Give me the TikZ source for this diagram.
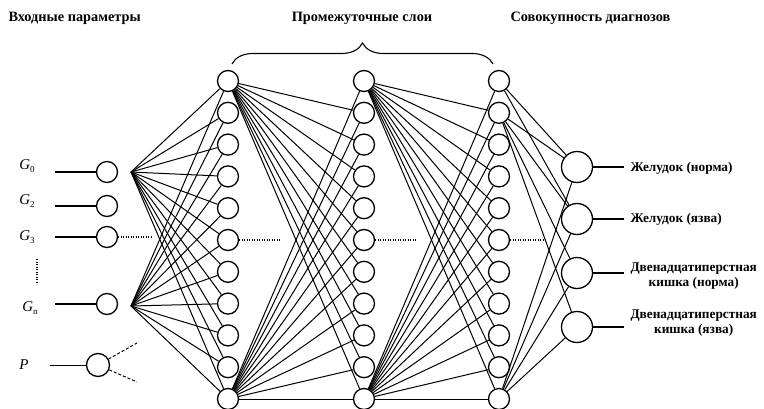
\documentclass[tikz,border=0pt]{standalone}
\usepackage{fontspec}
\setmainfont{Liberation Serif}
\usetikzlibrary{decorations.pathreplacing}
\begin{document}
\begin{tikzpicture}[x=1pt,y=-1pt,
  neuron/.style={circle,draw,line width=1.3pt,minimum size=21pt,inner sep=0pt},
  outneuron/.style={neuron,minimum size=31pt},
  link/.style={line width=1pt},
  dotline/.style={line width=1.4pt,dash pattern=on 1.3pt off 1.2pt},
  dashline/.style={line width=1pt,dash pattern=on 3pt off 2pt},
  toplabel/.style={font=\fontsize{14.3}{16}\selectfont\bfseries},
  outlabel/.style={font=\fontsize{13.3}{15.5}\selectfont\bfseries,align=center,anchor=west},
  glabel/.style={font=\fontsize{15}{17}\selectfont}]
\useasboundingbox (0,0) rectangle (764,408);
% top labels
\node[toplabel,anchor=west] (tin) at (5,18) {Входные параметры};
\node[toplabel] (tmid) at (362,18) {Промежуточные слои};
\node[toplabel,anchor=west] (tout) at (507,18) {Совокупность диагнозов};
\coordinate (bl) at (232,64);
\coordinate (br) at (493,64);
\draw[line width=1.1pt,decorate,decoration={brace,amplitude=21pt}] (bl) -- (br);
% inputs
\foreach \n/\y in {0/172,2/206,3/237,n/304}{
  \node[neuron] (I\n) at (107,\y) {};
  \coordinate (S\n) at (55,\y);
  \draw[line width=1.3pt] (S\n) -- (I\n);
}
\node[glabel] (g0) at (27,166) {\textit{G}\raisebox{-2.5pt}{\fontsize{9}{10}\selectfont 0}};
\node[glabel] (g2) at (27,201) {\textit{G}\raisebox{-2.5pt}{\fontsize{9}{10}\selectfont 2}};
\node[glabel] (g3) at (27,237) {\textit{G}\raisebox{-2.5pt}{\fontsize{9}{10}\selectfont 3}};
\node[glabel] (gn) at (30,308) {\textit{G}\raisebox{-2.5pt}{\fontsize{9}{10}\selectfont n}};
\node[glabel] (gp) at (24,365) {\textit{P}};
\node[neuron,minimum size=23pt] (IP) at (98,365) {};
\coordinate (SP) at (50,365);
\draw[line width=0.9pt] (SP) -- (IP);
\coordinate (pa) at (137,343);
\coordinate (pb) at (137,382);
\draw[dashline] (IP) -- (pa);
\draw[dashline] (IP) -- (pb);
\coordinate (vd1) at (37,259);
\coordinate (vd2) at (37,284);
\draw[dotline] (vd1) -- (vd2);
\coordinate (d3) at (151,237);
\draw[dotline] (I3) -- (d3);
% fan vertices
\coordinate (F0) at (131,172);
\coordinate (Fn) at (131,306);
% hidden layers
\foreach \l/\x in {1/228,2/364,3/499}{
  \foreach \i in {0,...,10}{
    \node[neuron] (L\l-\i) at (\x,{81+\i*31.8}) {};
  }
}
\foreach \i in {0,...,10}{
  \draw[link] (F0) -- (L1-\i);
  \draw[link] (Fn) -- (L1-\i);
}
\foreach \l/\m in {1/2,2/3}{
  \foreach \j in {1,...,10}{\draw[link] (L\l-0) -- (L\m-\j);}
  \foreach \j in {0,...,10}{\draw[link] (L\l-10) -- (L\m-\j);}
}
% dotted middles
\coordinate (m1) at (281,240);
\coordinate (m2) at (417,240);
\coordinate (m3) at (543,240);
\draw[dotline] (L1-5) -- (m1);
\draw[dotline] (L2-5) -- (m2);
\draw[dotline] (L3-5) -- (m3);
% outputs
\foreach \k/\y in {1/167,2/219,3/273,4/327}{
  \node[outneuron] (O\k) at (577,\y) {};
  \coordinate (E\k) at (624,\y);
  \draw[line width=1.3pt] (O\k) -- (E\k);
  \draw[link] (L3-10) -- (O\k);
  \draw[link] (L3-1) -- (O\k);
}
\draw[link] (L3-0) -- (O1);
\draw[link] (L3-0) -- (O2);
\node[outlabel] (t1) at (627,168) {Желудок (норма)};
\node[outlabel] (t2) at (627,219) {Желудок (язва)};
\node[outlabel] (t3) at (627,276) {Двенадцатиперстная\\кишка (норма)};
\node[outlabel] (t4) at (627,323) {Двенадцатиперстная\\кишка (язва)};
\end{tikzpicture}
\end{document}
